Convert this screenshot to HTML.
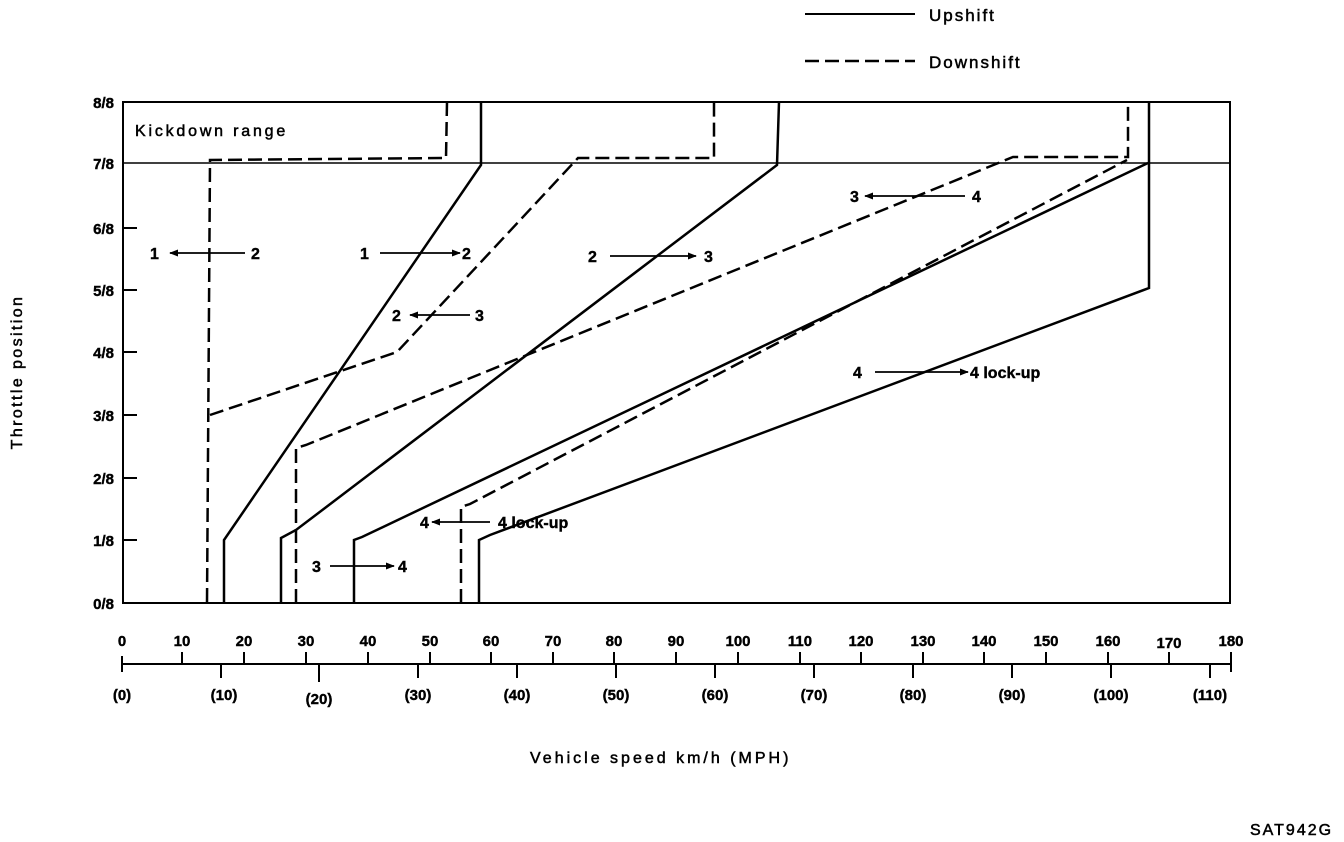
<!DOCTYPE html>
<html><head><style>body{margin:0;background:#fff}svg{display:block}text{font-family:"Liberation Sans",sans-serif;fill:#000}</style></head><body>
<svg width="1344" height="842" viewBox="0 0 1344 842" xmlns="http://www.w3.org/2000/svg">
<defs><marker id="a" viewBox="0 0 10 10" refX="9" refY="5" markerWidth="5" markerHeight="5" orient="auto-start-reverse"><path d="M0,1 L10,5 L0,9 z" fill="#000"/></marker></defs>
<g stroke="#000" fill="none">
<line x1="805" y1="14" x2="915" y2="14" stroke-width="2"/>
<line x1="805" y1="61" x2="915" y2="61" stroke-width="2.5" stroke-dasharray="14,6"/>
<rect x="123" y="102" width="1107" height="501" stroke-width="2"/>
<line x1="123" y1="163" x2="1230" y2="163" stroke-width="1.5"/>
<g stroke-width="2">
<line x1="123" y1="228" x2="137" y2="228"/><line x1="123" y1="290" x2="137" y2="290"/><line x1="123" y1="352" x2="137" y2="352"/><line x1="123" y1="415" x2="137" y2="415"/><line x1="123" y1="478" x2="137" y2="478"/><line x1="123" y1="540" x2="137" y2="540"/>
</g>
<g stroke-width="2.5">
<polyline points="224,603 224,540 481,165 481,102"/>
<polyline points="281,603 281,538 296,530 777,165 779,102"/>
<polyline points="354,603 354,540 362,537 1148,163"/>
<polyline points="1149,102 1149,288 490,535 479,540 479,603"/>
</g>
<g stroke-width="2.5" stroke-dasharray="14,6">
<polyline points="447,102 446,158 210,160 207,603"/>
<polyline points="210,415 397,352 578,158 714,158 714,102"/>
<polyline points="296,603 296,448 306,445 1013,157 1128,157 1128,102"/>
<polyline points="461,603 461,507 470,504 1127,160"/>
</g>
<g stroke-width="1.8">
<line x1="245" y1="253" x2="170" y2="253" marker-end="url(#a)"/><line x1="380" y1="253" x2="460" y2="253" marker-end="url(#a)"/><line x1="610" y1="256" x2="696" y2="256" marker-end="url(#a)"/>
<line x1="470" y1="315" x2="410" y2="315" marker-end="url(#a)"/><line x1="965" y1="196" x2="865" y2="196" marker-end="url(#a)"/><line x1="875" y1="372" x2="968" y2="372" marker-end="url(#a)"/>
<line x1="490" y1="522" x2="432" y2="522" marker-end="url(#a)"/><line x1="330" y1="566" x2="394" y2="566" marker-end="url(#a)"/>
</g>
<line x1="122" y1="664" x2="1231" y2="664" stroke-width="2"/>
<g stroke-width="2">
<line x1="122" y1="656" x2="122" y2="672"/>
<line x1="182" y1="652" x2="182" y2="664"/><line x1="244" y1="652" x2="244" y2="664"/><line x1="306" y1="652" x2="306" y2="664"/><line x1="368" y1="652" x2="368" y2="664"/><line x1="430" y1="652" x2="430" y2="664"/><line x1="491" y1="652" x2="491" y2="664"/><line x1="553" y1="652" x2="553" y2="664"/><line x1="614" y1="652" x2="614" y2="664"/><line x1="676" y1="652" x2="676" y2="664"/><line x1="738" y1="652" x2="738" y2="664"/><line x1="800" y1="652" x2="800" y2="664"/><line x1="861" y1="652" x2="861" y2="664"/><line x1="923" y1="652" x2="923" y2="664"/><line x1="984" y1="652" x2="984" y2="664"/><line x1="1046" y1="652" x2="1046" y2="664"/><line x1="1108" y1="652" x2="1108" y2="664"/><line x1="1169" y1="652" x2="1169" y2="664"/><line x1="1231" y1="652" x2="1231" y2="672"/>
<line x1="221" y1="664" x2="221" y2="678"/><line x1="319" y1="664" x2="319" y2="682"/><line x1="418" y1="664" x2="418" y2="678"/><line x1="517" y1="664" x2="517" y2="678"/><line x1="616" y1="664" x2="616" y2="678"/><line x1="715" y1="664" x2="715" y2="678"/><line x1="814" y1="664" x2="814" y2="678"/><line x1="913" y1="664" x2="913" y2="678"/><line x1="1012" y1="664" x2="1012" y2="678"/><line x1="1111" y1="664" x2="1111" y2="678"/><line x1="1210" y1="664" x2="1210" y2="678"/>
</g>
</g>
<g font-size="15" font-weight="bold" text-anchor="middle" stroke="#000" stroke-width="0.4">
<text x="122" y="646">0</text><text x="182" y="646">10</text><text x="244" y="646">20</text><text x="306" y="646">30</text><text x="368" y="646">40</text><text x="430" y="646">50</text><text x="491" y="646">60</text><text x="553" y="646">70</text><text x="614" y="646">80</text><text x="676" y="646">90</text><text x="738" y="646">100</text><text x="800" y="646">110</text><text x="861" y="646">120</text><text x="923" y="646">130</text><text x="984" y="646">140</text><text x="1046" y="646">150</text><text x="1108" y="646">160</text><text x="1169" y="648">170</text><text x="1231" y="646">180</text>
<text x="122" y="700">(0)</text><text x="224" y="700">(10)</text><text x="319" y="704">(20)</text><text x="418" y="700">(30)</text><text x="517" y="700">(40)</text><text x="616" y="700">(50)</text><text x="715" y="700">(60)</text><text x="814" y="700">(70)</text><text x="913" y="700">(80)</text><text x="1012" y="700">(90)</text><text x="1111" y="700">(100)</text><text x="1210" y="700">(110)</text>
</g>
<g font-size="15" font-weight="bold" text-anchor="end" stroke="#000" stroke-width="0.4">
<text x="114" y="108">8/8</text><text x="114" y="169">7/8</text><text x="114" y="234">6/8</text><text x="114" y="296">5/8</text><text x="114" y="358">4/8</text><text x="114" y="421">3/8</text><text x="114" y="484">2/8</text><text x="114" y="546">1/8</text><text x="114" y="609">0/8</text>
</g>
<g font-size="16" font-weight="bold" stroke="#000" stroke-width="0.4">
<text x="150" y="259">1</text><text x="251" y="259">2</text><text x="360" y="259">1</text><text x="462" y="259">2</text><text x="588" y="262">2</text><text x="704" y="262">3</text>
<text x="392" y="321">2</text><text x="475" y="321">3</text><text x="850" y="202">3</text><text x="972" y="202">4</text>
<text x="853" y="378">4</text><text x="970" y="378">4 lock-up</text><text x="420" y="528">4</text><text x="498" y="528">4 lock-up</text>
<text x="312" y="572">3</text><text x="398" y="572">4</text>
</g>
<g font-size="16" stroke="#000" stroke-width="0.5">
<text x="135" y="136" letter-spacing="2.8">Kickdown range</text>
<text x="929" y="21" font-size="17" letter-spacing="2">Upshift</text><text x="929" y="68" font-size="17" letter-spacing="2">Downshift</text>
<text x="530" y="763" letter-spacing="3">Vehicle speed km/h (MPH)</text>
<text x="1250" y="835" letter-spacing="2">SAT942G</text>
<text transform="translate(22,372) rotate(-90)" text-anchor="middle" letter-spacing="2.4">Throttle position</text>
</g>
</svg>
</body></html>
